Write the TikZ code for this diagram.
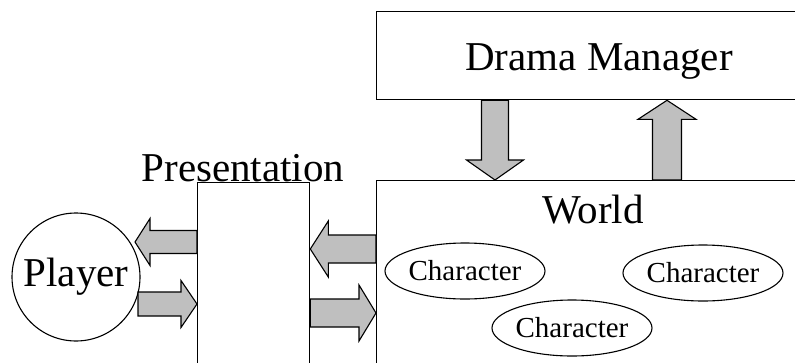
\documentclass[tikz,border=0pt]{standalone}
\usepackage{fontspec}
\setmainfont{Liberation Serif}
\newfontfamily\labelfont{Liberation Serif}
\usetikzlibrary{calc,shapes.geometric}

\tikzset{
  box/.style={draw, line width=1.3pt, fill=white, inner sep=0pt, anchor=north west},
  big/.style={font=\labelfont\fontsize{41}{48}\selectfont, inner sep=0pt, anchor=base},
  charnode/.style={draw, ellipse, line width=1.1pt, minimum width=160pt, minimum height=56pt,
    inner sep=0pt, font=\labelfont\fontsize{29}{34}\selectfont},
  flow/.style={draw, line width=1.1pt, fill=black!25, line join=miter},
}

% block arrow: #1 tail, #2 tip, #3 shaft half width, #4 head half width, #5 head length
\newcommand\blockarrow[5]{%
  \coordinate (ba-h) at ($(#2)!#5!(#1)$);
  \draw[flow] ($(#1)!#3!90:(#2)$) -- ($(ba-h)!#3!90:(#2)$) -- ($(ba-h)!#4!90:(#2)$)
    -- (#2) -- ($(ba-h)!#4!-90:(#2)$) -- ($(ba-h)!#3!-90:(#2)$) -- ($(#1)!#3!-90:(#2)$) -- cycle;
}

\begin{document}
\begin{tikzpicture}[x=1pt, y=-1pt]
  \clip (0,0) rectangle (795,362);
  \fill[white] (0,0) rectangle (795,362);

  % blocks
  \node[box, minimum width=440pt, minimum height=88pt] (dm) at (376,11) {};
  \node[box, minimum width=440pt, minimum height=220pt] (world) at (376,180) {};
  \node[box, minimum width=112pt, minimum height=220pt] (pres) at (197,182) {};
  \node[draw, circle, line width=1.1pt, minimum size=128pt, inner sep=0pt,
        font=\labelfont\fontsize{41}{48}\selectfont] (player) at (76,277) {Player};

  % labels
  \node[big] (dmlabel) at (599,70) {Drama Manager};
  \node[big] (worldlabel) at (593,223) {World};
  \node[big] (preslabel) at (243,181) {Presentation};

  % characters living in the world
  \node[charnode] (ch1) at (465,271) {Character};
  \node[charnode] (ch2) at (703,273) {Character};
  \node[charnode] (ch3) at (572,328) {Character};

  % arrow end points on the block borders
  \coordinate (p2pl-s) at (pres.west |- 0,242);
  \coordinate (p2pl-e) at (135,242);
  \coordinate (pl2p-s) at (138,304);
  \coordinate (pl2p-e) at (pres.west |- 0,304);
  \coordinate (w2p-s) at (world.west |- 0,249);
  \coordinate (w2p-e) at (pres.east |- 0,249);
  \coordinate (p2w-s) at (pres.east |- 0,313);
  \coordinate (p2w-e) at (world.west |- 0,313);
  \coordinate (dm2w-s) at (dm.south -| 495,0);
  \coordinate (dm2w-e) at (world.north -| 495,0);
  \coordinate (w2dm-s) at (world.north -| 667,0);
  \coordinate (w2dm-e) at (dm.south -| 667,0);

  \blockarrow{p2pl-s}{p2pl-e}{11.5pt}{23.5pt}{15pt}
  \blockarrow{pl2p-s}{pl2p-e}{12pt}{23.5pt}{16pt}
  \blockarrow{w2p-s}{w2p-e}{14pt}{28pt}{18pt}
  \blockarrow{p2w-s}{p2w-e}{14pt}{28pt}{17pt}
  \blockarrow{dm2w-s}{dm2w-e}{13.5pt}{28.5pt}{20pt}
  \blockarrow{w2dm-s}{w2dm-e}{14.5pt}{29pt}{19pt}
\end{tikzpicture}
\end{document}
